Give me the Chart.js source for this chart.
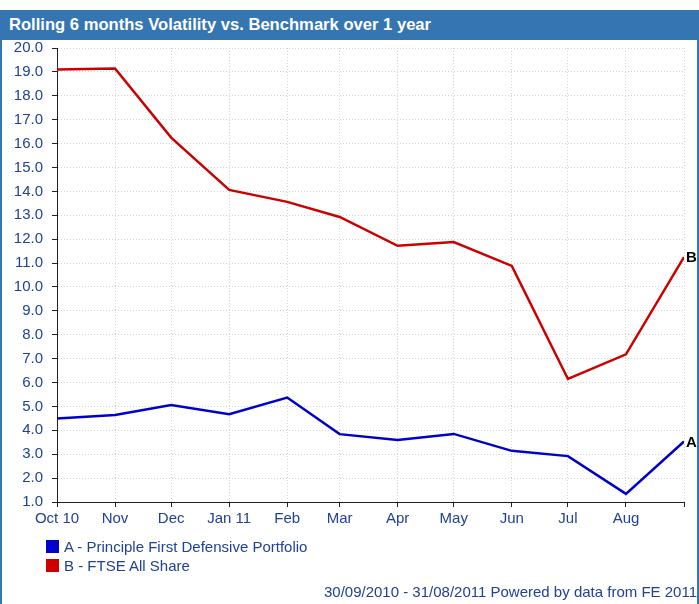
<!DOCTYPE html>
<html>
<head>
<meta charset="utf-8">
<script src="https://cdn.jsdelivr.net/npm/chart.js@4.4.0/dist/chart.umd.min.js"></script>
<style>
body { margin: 0; background: #fff; font-family: Arial, "Liberation Sans", sans-serif; }
#wrap { position: relative; width: 699px; height: 604px; overflow: hidden; }
#frame { position: absolute; left: 0; top: 10px; width: 695px; height: 600px; border-left: 2px solid #3575b1; border-right: 2px solid #3575b1; }
#title { position: absolute; left: 0; top: 10px; width: 699px; height: 30px; background: #3575b1; color: #fff; font-weight: bold; font-size: 16.6px; line-height: 30px; text-indent: 9px; white-space: nowrap; }
canvas { position: absolute; left: 0; top: 0; }
#legend { position: absolute; left: 46px; top: 537px; font-size: 15px; line-height: 19px; color: #21409a; }
#legend span { display: inline-block; width: 13px; height: 13px; margin-right: 5px; vertical-align: -1px; }
#foot { position: absolute; right: 2px; top: 583px; font-size: 15px; color: #21409a; white-space: nowrap; }
</style>
</head>
<body>
<div id="wrap">
  <div id="frame"></div>
  <div id="title">Rolling 6 months Volatility vs. Benchmark over 1 year</div>
  <canvas id="chart" width="699" height="604"></canvas>
  <div id="legend"></div>
  <div id="foot">30/09/2010 - 31/08/2011 Powered by data from FE 2011</div>
</div>
<script>
// month-end dates of the rolling values
const dates = ['2010-09-30', '2010-10-31', '2010-11-30', '2010-12-31', '2011-01-31', '2011-02-28',
               '2011-03-31', '2011-04-30', '2011-05-31', '2011-06-30', '2011-07-31', '2011-08-31'];
const tickLabels = ['Oct 10', 'Nov', 'Dec', 'Jan 11', 'Feb', 'Mar', 'Apr', 'May', 'Jun', 'Jul', 'Aug', ''];

const seriesA = [4.49, 4.64, 5.06, 4.67, 5.37, 3.84, 3.59, 3.85, 3.14, 2.92, 1.34, 3.53];
const seriesB = [19.10, 19.14, 16.25, 14.06, 13.56, 12.93, 11.72, 11.88, 10.88, 6.15, 7.18, 11.25];

const seriesNames = ['A - Principle First Defensive Portfolio', 'B - FTSE All Share'];
const seriesTags = ['A', 'B'];
const seriesColors = ['#0000cc', '#cc0000'];

const labelColor = '#21409a';

// days since first date -> linear x scale
const start = new Date(dates[0]).getTime();
const days = dates.map(d => Math.round((new Date(d).getTime() - start) / 86400000));

const endTags = {
  id: 'endTags',
  afterDatasetsDraw(chart) {
    const ctx = chart.ctx;
    chart.data.datasets.forEach((ds, i) => {
      const pts = chart.getDatasetMeta(i).data;
      const p = pts[pts.length - 1];
      ctx.save();
      ctx.font = 'bold 15px Arial';
      ctx.fillStyle = '#000';
      ctx.textBaseline = 'middle';
      ctx.fillText(seriesTags[i], p.x + 2, p.y + 1);
      ctx.restore();
    });
  }
};

let volChart = new Chart(document.getElementById('chart').getContext('2d'), {
  type: 'line',
  data: {
    datasets: [seriesA, seriesB].map((vals, i) => ({
      label: seriesNames[i],
      data: vals.map((v, j) => ({ x: days[j], y: v })),
      borderColor: seriesColors[i],
      backgroundColor: seriesColors[i],
      borderWidth: 2.5,
      pointRadius: 0,
      tension: 0,
      fill: false
    }))
  },
  options: {
    responsive: false,
    animation: false,
    devicePixelRatio: 1,
    layout: { padding: { left: 0, top: 48, right: 15, bottom: 0 } },
    plugins: { legend: { display: false }, tooltip: { enabled: false } },
    scales: {
      x: {
        type: 'linear',
        min: 0,
        max: days[days.length - 1],
        afterBuildTicks: s => { s.ticks = days.map(v => ({ value: v })); },
        afterFit: s => { s.height = 102; },
        ticks: {
          autoSkip: false,
          maxRotation: 0,
          padding: 3,
          color: labelColor,
          font: { family: 'Arial', size: 15 },
          callback: (v, i) => tickLabels[i]
        },
        grid: { color: '#d4d4d4', lineWidth: 1, tickColor: '#222', tickLength: 5 },
        border: { color: '#222', width: 1, dash: [1, 2] }
      },
      y: {
        min: 1,
        max: 20,
        afterFit: s => { s.width = 57; },
        ticks: {
          stepSize: 1,
          padding: 9,
          color: labelColor,
          font: { family: 'Arial', size: 15 },
          callback: v => v.toFixed(1)
        },
        grid: { color: '#d4d4d4', lineWidth: 1, tickColor: '#222', tickLength: 5 },
        border: { color: '#222', width: 1, dash: [1, 2] }
      }
    }
  },
  plugins: [endTags]
});

// legend
document.getElementById('legend').innerHTML = seriesNames
  .map((n, i) => '<div><span style="background:' + seriesColors[i] + '"></span>' + n + '</div>')
  .join('');
</script>
</body>
</html>
